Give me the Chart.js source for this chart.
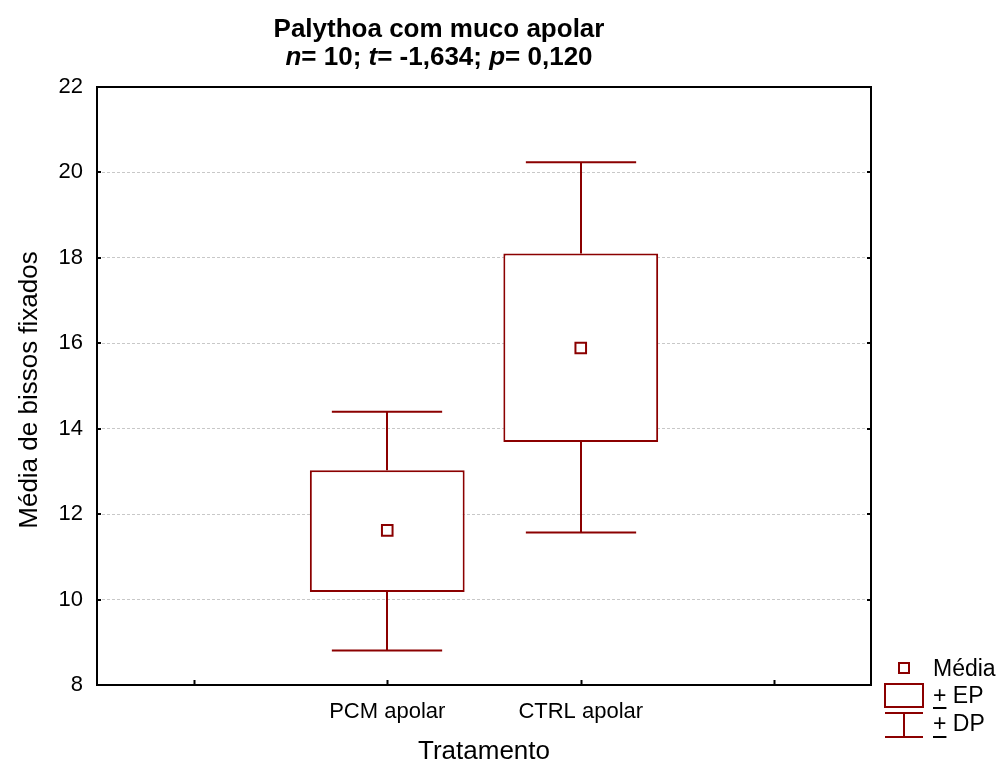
<!DOCTYPE html>
<html>
<head>
<meta charset="utf-8">
<script src="https://cdn.jsdelivr.net/npm/chart.js@4/dist/chart.umd.min.js"></script>
<style>
  html, body { margin: 0; padding: 0; background: #fff; }
  #wrap { width: 999px; height: 763px; }
</style>
</head>
<body>
<div id="wrap"><canvas id="c" width="999" height="763"></canvas></div>
<script>
// Categories (empty slots at both ends keep the two groups centred)
const categories = ['', 'PCM apolar', 'CTRL apolar', ''];
// Group means
const means  = [null, 11.62, 15.89, null];
// Mean ± standard error (box)
const seLow  = [null, 10.18, 13.69, null];
const seHigh = [null, 13.03, 18.10, null];
// Mean ± standard deviation (whiskers)
const sdLow  = [null, 8.81, 11.57, null];
const sdHigh = [null, 14.40, 20.24, null];
// Y axis range and step
const yMin = 8, yMax = 22, yStep = 2;

const titleLine1 = 'Palythoa com muco apolar';
const titleLine2 = [['n', true], ['= 10; ', false], ['t', true], ['= -1,634; ', false], ['p', true], ['= 0,120', false]];
const xTitle = 'Tratamento';
const yTitle = 'Média de bissos fixados';
const legendItems = ['Média', '+ EP', '+ DP'];

const RED = '#8b0000';
const FONT = "'Liberation Sans', Arial, sans-serif";

const boxData = categories.map((_, i) => seLow[i] == null ? null : [seLow[i], seHigh[i]]);

const decorPlugin = {
  id: 'decor',
  beforeDatasetsDraw(chart) {
    const ctx = chart.ctx, xs = chart.scales.x, ys = chart.scales.y;
    const catW = xs.getPixelForValue(1) - xs.getPixelForValue(0);
    const half = catW * 0.285;
    ctx.save();
    ctx.strokeStyle = RED;
    ctx.lineWidth = 2;
    categories.forEach((_, i) => {
      if (sdHigh[i] == null) return;
      const x = Math.round(xs.getPixelForValue(i));
      const yt = ys.getPixelForValue(sdHigh[i]);
      const yb = ys.getPixelForValue(sdLow[i]);
      const bt = ys.getPixelForValue(seHigh[i]);
      const bb = ys.getPixelForValue(seLow[i]);
      ctx.beginPath();
      ctx.moveTo(x, bt); ctx.lineTo(x, yt);
      ctx.moveTo(x - half, yt); ctx.lineTo(x + half, yt);
      ctx.moveTo(x, bb); ctx.lineTo(x, yb);
      ctx.moveTo(x - half, yb); ctx.lineTo(x + half, yb);
      ctx.stroke();
    });
    ctx.restore();
  },
  afterDraw(chart) {
    const ctx = chart.ctx, xs = chart.scales.x, ys = chart.scales.y;
    const a = chart.chartArea;
    ctx.save();
    // frame
    ctx.strokeStyle = '#000';
    ctx.lineWidth = 2;
    ctx.strokeRect(a.left, a.top, a.right - a.left, a.bottom - a.top);
    // inward tick marks
    ctx.beginPath();
    for (let v = yMin + yStep; v < yMax; v += yStep) {
      const y = Math.round(ys.getPixelForValue(v));
      ctx.moveTo(a.left, y); ctx.lineTo(a.left + 4, y);
      ctx.moveTo(a.right, y); ctx.lineTo(a.right - 4, y);
    }
    categories.forEach((_, i) => {
      const x = Math.round(xs.getPixelForValue(i)) + 0.5;
      ctx.moveTo(x, a.bottom); ctx.lineTo(x, a.bottom - 5);
    });
    ctx.stroke();

    // title
    ctx.fillStyle = '#000';
    const cx = 439;
    ctx.textBaseline = 'alphabetic';
    ctx.textAlign = 'center';
    ctx.font = 'bold 26px ' + FONT;
    ctx.fillText(titleLine1, cx, 37);
    ctx.textAlign = 'left';
    let total = 0;
    titleLine2.forEach(([t, it]) => {
      ctx.font = (it ? 'italic ' : '') + 'bold 26px ' + FONT;
      total += ctx.measureText(t).width;
    });
    let x0 = cx - total / 2;
    titleLine2.forEach(([t, it]) => {
      ctx.font = (it ? 'italic ' : '') + 'bold 26px ' + FONT;
      ctx.fillText(t, x0, 65);
      x0 += ctx.measureText(t).width;
    });

    // axis titles
    ctx.font = '26px ' + FONT;
    ctx.textAlign = 'center';
    ctx.fillText(xTitle, (a.left + a.right) / 2, 759);
    ctx.save();
    ctx.translate(37, (a.top + a.bottom) / 2 + 4);
    ctx.rotate(-Math.PI / 2);
    ctx.fillText(yTitle, 0, 0);
    ctx.restore();

    // legend
    ctx.strokeStyle = RED;
    ctx.lineWidth = 2;
    ctx.strokeRect(899, 663, 10, 10);
    ctx.strokeRect(885, 684, 38, 23);
    ctx.beginPath();
    ctx.moveTo(885, 713); ctx.lineTo(923, 713);
    ctx.moveTo(904, 713); ctx.lineTo(904, 737);
    ctx.moveTo(885, 737); ctx.lineTo(923, 737);
    ctx.stroke();
    ctx.fillStyle = '#000';
    ctx.font = '23px ' + FONT;
    ctx.textAlign = 'left';
    ctx.fillText(legendItems[0], 933, 676);
    ctx.fillText(legendItems[1], 933, 703);
    ctx.fillText(legendItems[2], 933, 731);
    const pw = ctx.measureText('+').width;
    ctx.strokeStyle = '#000';
    ctx.beginPath();
    ctx.moveTo(933, 708); ctx.lineTo(933 + pw, 708);
    ctx.moveTo(933, 737); ctx.lineTo(933 + pw, 737);
    ctx.stroke();
    ctx.restore();
  }
};

new Chart(document.getElementById('c'), {
  type: 'bar',
  data: {
    labels: categories,
    datasets: [
      {
        type: 'line',
        label: 'Média',
        data: means,
        showLine: false,
        pointStyle: 'rect',
        pointRadius: 7.5,
        pointHoverRadius: 7.5,
        pointBackgroundColor: '#fff',
        pointBorderColor: RED,
        pointBorderWidth: 2,
        order: 0
      },
      {
        type: 'bar',
        label: 'EP',
        data: boxData,
        backgroundColor: '#fff',
        borderColor: RED,
        borderWidth: 2,
        borderSkipped: false,
        barPercentage: 0.8,
        categoryPercentage: 1,
        order: 1
      }
    ]
  },
  options: {
    responsive: false,
    animation: false,
    devicePixelRatio: 1,
    layout: { padding: { top: 87, right: 128, left: 0, bottom: 0 } },
    plugins: { legend: { display: false }, title: { display: false }, tooltip: { enabled: false } },
    scales: {
      x: {
        offset: true,
        grid: { display: false, drawTicks: false },
        border: { display: false },
        ticks: { color: '#000', font: { family: FONT, size: 22 }, padding: 14, maxRotation: 0, autoSkip: false },
        afterFit(s) { s.height = 78; }
      },
      y: {
        min: yMin,
        max: yMax,
        grid: { color: '#c8c8c8', lineWidth: 1, drawTicks: false },
        border: { display: false, dash: [3, 2] },
        ticks: { stepSize: yStep, color: '#000', font: { family: FONT, size: 22 }, padding: 14 },
        afterFit(s) { s.width = 97; }
      }
    }
  },
  plugins: [decorPlugin]
});
</script>
</body>
</html>
